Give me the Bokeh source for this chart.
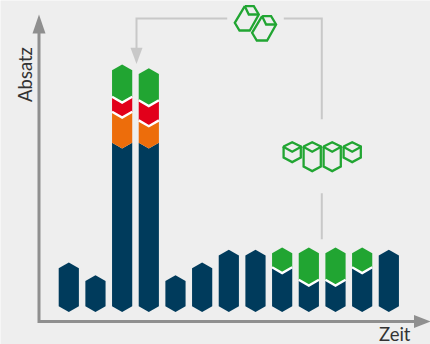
from bokeh.core.properties import value
from bokeh.embed import file_html
from bokeh.models import ColumnDataSource
from bokeh.plotting import figure
from bokeh.resources import INLINE

# Sales per period, stacked bottom to top
periods = list(range(13))
navy = [49.5, 36.8, 163.5, 163.5, 36.8, 49.5, 62.2, 62.2, 39.0, 26.5, 26.5, 39.0, 62.2]
orange = [0, 0, 31.0, 22.3, 0, 0, 0, 0, 0, 0, 0, 0, 0]
red = [0, 0, 15.0, 20.2, 0, 0, 0, 0, 0, 0, 0, 0, 0]
green = [0, 0, 38.0, 37.8, 0, 0, 0, 0, 25.5, 38.0, 38.0, 25.5, 0]
series = [("#003b5c", navy), ("#ed6d0b", orange), ("#e2001a", red), ("#21a532", green)]
axis_labels = ("Zeit", "Absatz")

BG = "#eeeeee"
AXIS = "#8f8f8f"
GUIDE = "#c8c8c8"
GREEN = "#21a532"
TEXT = "#333333"

W, H = 430, 344
STEP = 26.67        # pixels per period
LEFT = 68.3         # pixel position of the first period
BASE = 311.5        # pixel position of sales = 0
HALF = 10.1 / STEP  # half a column, in periods
TIP = 5.8           # height of a chevron, in sales units

p = figure(width=W, height=H, output_backend="svg", toolbar_location=None,
           x_range=(-LEFT / STEP, (W - LEFT) / STEP), y_range=(BASE - H, BASE),
           x_axis_type="linear", min_border=0, outline_line_color=None,
           background_fill_color=BG, border_fill_color=BG)
p.axis.visible = False
p.grid.visible = False


def sx(px):
    return (px - LEFT) / STEP


def sy(py):
    return BASE - py


# Columns: every block has a chevron foot; only the topmost block ends in a peak
xs, ys, fills = [], [], []
sep_x, sep_y = [], []
for i in periods:
    base = 0.0
    stack = [(c, v[i]) for c, v in series if v[i] > 0]
    for k, (colour, amount) in enumerate(stack):
        top = base + amount
        last = k == len(stack) - 1
        rise = -TIP if last else TIP
        xs.append([i - HALF, i, i + HALF, i + HALF, i, i - HALF])
        ys.append([base + TIP, base, base + TIP, top + rise, top, top + rise])
        fills.append(colour)
        # White seam above each block, apart from navy under orange
        if not last and not (colour == "#003b5c" and stack[k + 1][0] == "#ed6d0b"):
            sep_x.append([i - HALF, i, i + HALF])
            sep_y.append([top + TIP, top, top + TIP])
        base = top

p.patches(xs="xs", ys="ys", fill_color="c", line_color=None,
          source=ColumnDataSource(dict(xs=xs, ys=ys, c=fills)))
p.multi_line(sep_x, sep_y, line_color="white", line_width=2.4, line_join="miter")

# Axes with arrowheads
p.line([sx(38.5), sx(38.5), sx(415)], [sy(32), sy(321), sy(321)],
       line_color=AXIS, line_width=3, line_join="miter")
p.patch([sx(32), sx(45), sx(38.5)], [sy(33), sy(33), sy(14)], fill_color=AXIS, line_color=None)
p.patch([sx(413.5), sx(413.5), sx(430)], [sy(314.5), sy(327.5), sy(321)], fill_color=AXIS, line_color=None)

p.text([sx(410)], [sy(333)], text=[axis_labels[0]], text_font=value("Lato"),
       text_font_size="18.5px", text_color=TEXT, text_align="right", text_baseline="middle")
p.text([sx(24)], [sy(74)], text=[axis_labels[1]], text_font=value("Lato"),
       text_font_size="18.5px", text_color=TEXT, text_align="center", text_baseline="middle",
       angle=90, angle_units="deg")

# Guide lines joining the icon groups to the tall columns
p.line([sx(136), sx(136), sx(226.7)], [sy(50), sy(18), sy(18)],
       line_color=GUIDE, line_width=2, line_join="miter")
p.line([sx(283.3), sx(321.3), sx(321.3)], [sy(18), sy(18), sy(118.7)],
       line_color=GUIDE, line_width=2, line_join="miter")
p.line([sx(321.3), sx(321.3)], [sy(192.7), sy(238.7)], line_color=GUIDE, line_width=2)
p.patch([sx(130), sx(142), sx(136)], [sy(47.3), sy(47.3), sy(63.5)], fill_color=GUIDE, line_color=None)


def outline(points, inner):
    p.line([sx(a) for a, _ in points], [sy(b) for _, b in points],
           line_color=GREEN, line_width=2.3, line_join="miter")
    p.line([sx(a) for a, _ in inner], [sy(b) for _, b in inner],
           line_color=GREEN, line_width=2.3, line_join="miter")


# Upright hexagon icons
for cx, foot in [(291.7, 157), (311.7, 166), (331.7, 166), (351.7, 157)]:
    hw = 8.6
    outline([(cx - hw, 146), (cx, 141.7), (cx + hw, 146), (cx + hw, foot),
             (cx, foot + 4.6), (cx - hw, foot), (cx - hw, 146)],
            [(cx - hw - 0.8, 146), (cx, 151.2), (cx + hw + 0.8, 146)])

# Tilted hexagon icons
for dx, dy in [(0, 0), (17.3, 10)]:
    outline([(244.3 + dx, 5.7 + dy), (253.3 + dx, 5.7 + dy), (258.3 + dx, 14 + dy),
             (249.3 + dx, 30 + dy), (239 + dx, 30 + dy), (234.3 + dx, 22.3 + dy),
             (244.3 + dx, 5.7 + dy)],
            [(244.3 + dx, 5.7 + dy), (248.3 + dx, 14 + dy), (258.3 + dx, 14 + dy)])

open("out.html", "w").write(file_html(p, INLINE))
